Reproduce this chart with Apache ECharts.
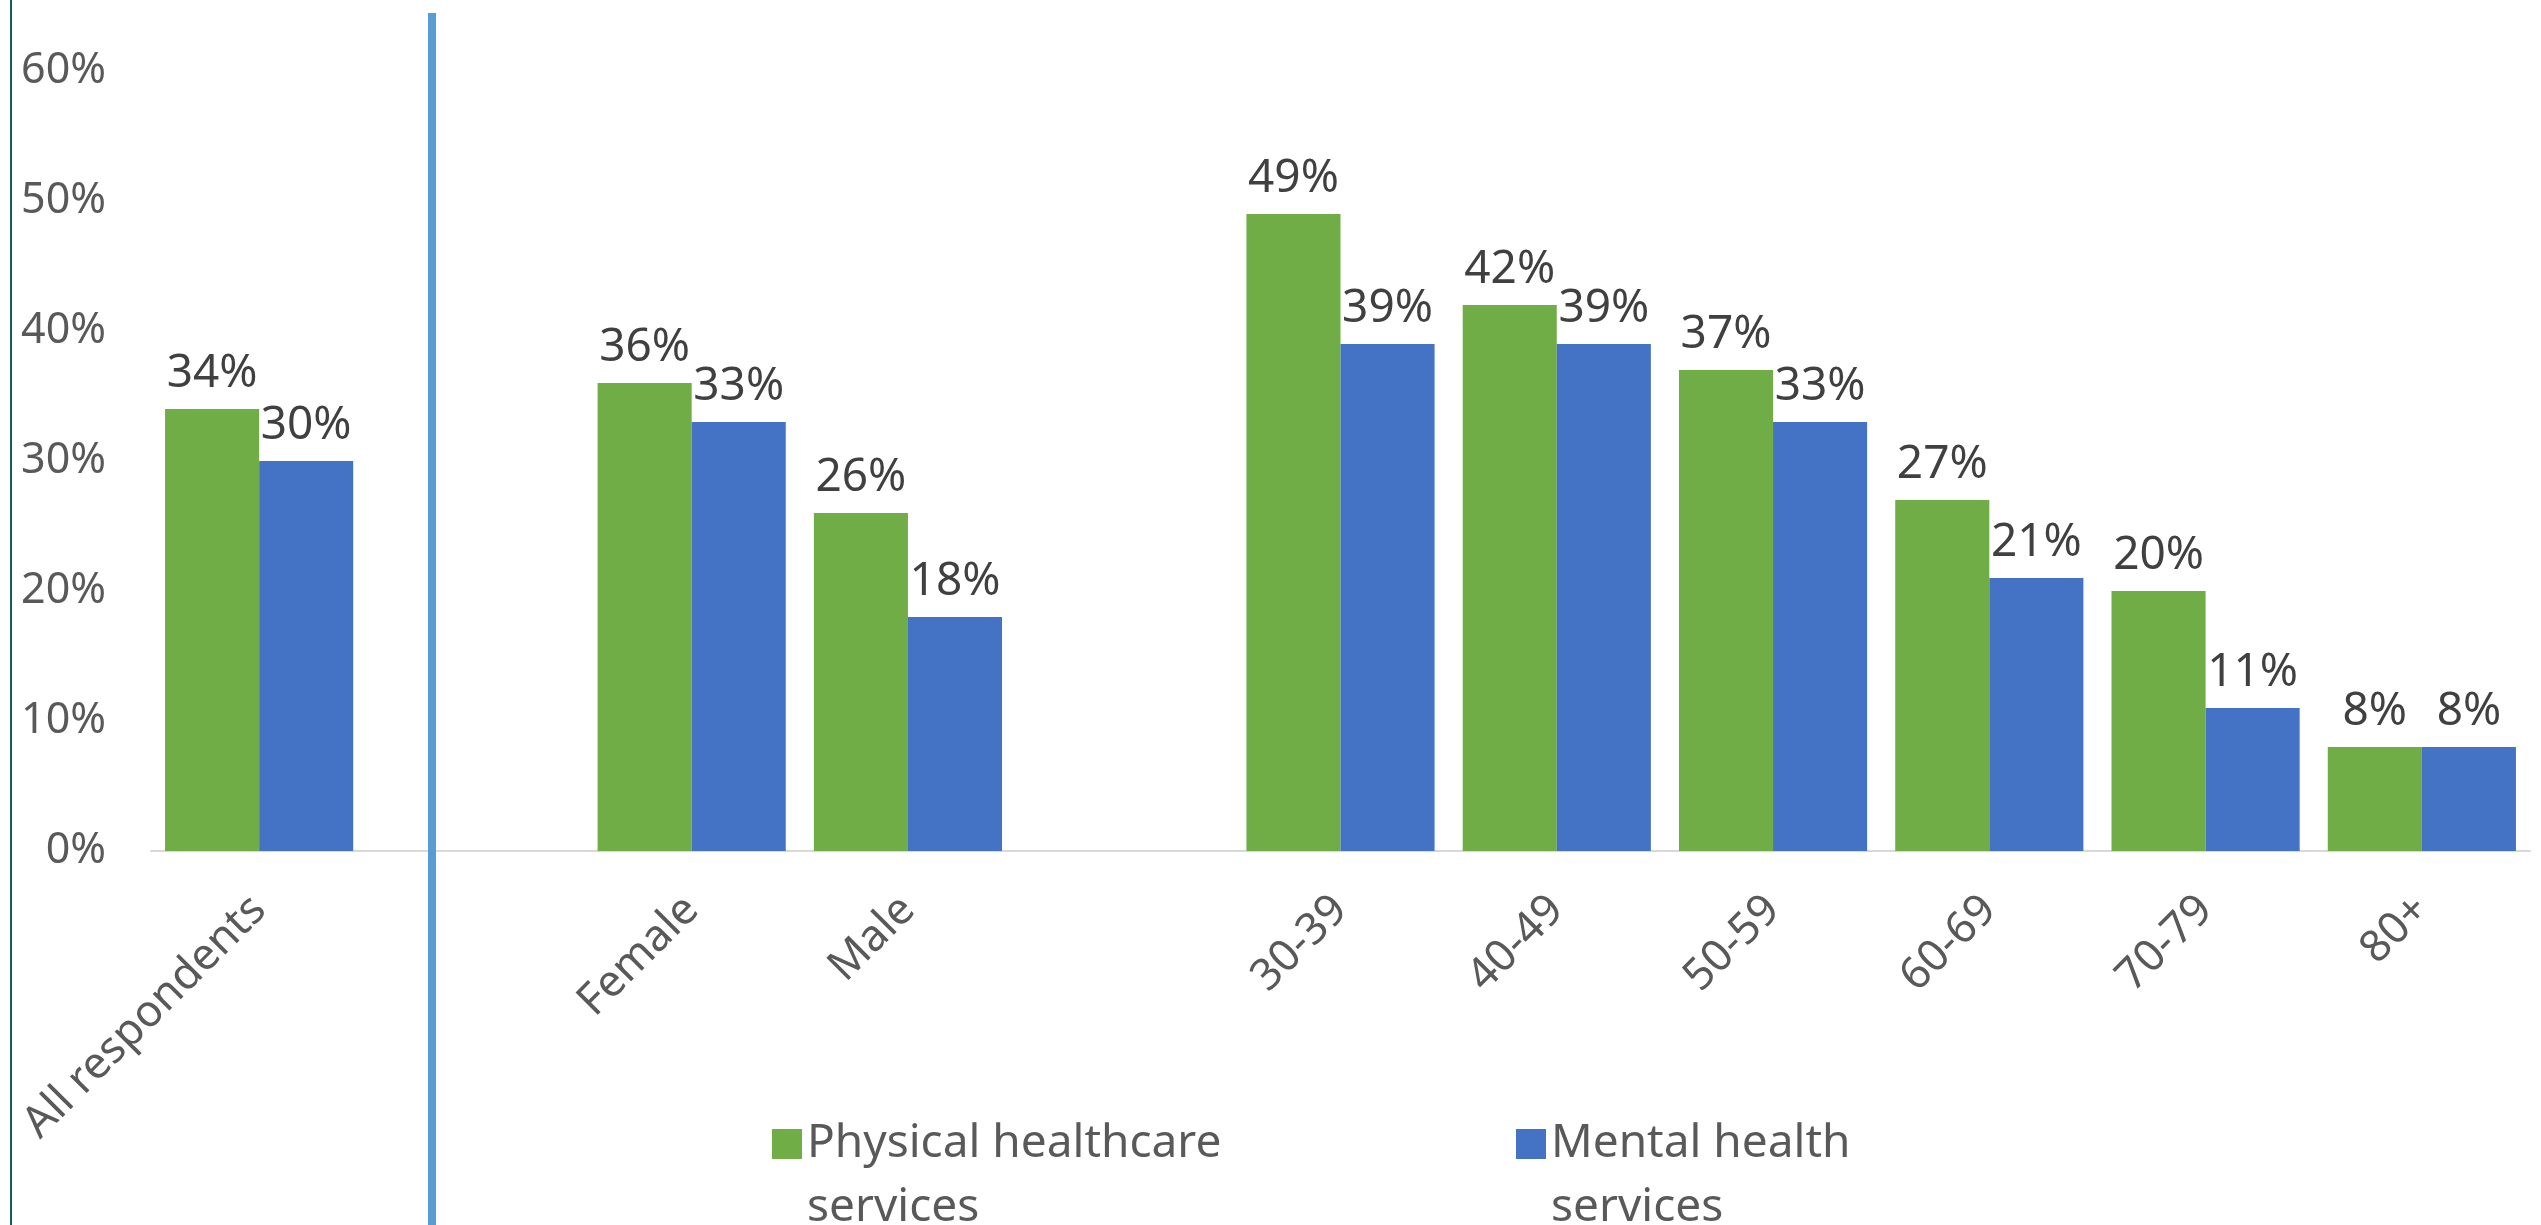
<!DOCTYPE html>
<html>
<head>
<meta charset="utf-8">
<script src="https://cdn.jsdelivr.net/npm/echarts@6/dist/echarts.min.js"></script>
<style>
  html, body { margin: 0; padding: 0; background: #fff; }
  #chart { width: 2541px; height: 1225px; }
</style>
</head>
<body>
<div id="chart"></div>
<script>
// blank categories leave the gaps between the groups
var categories = ['All respondents', '', 'Female', 'Male', '', '30-39', '40-49', '50-59', '60-69', '70-79', '80+'];
var physical = [34, null, 36, 26, null, 49, 42, 37, 27, 20, 8];
var mental = [30, null, 33, 18, null, 39, 39, 33, 21, 11, 8];
var seriesNames = ['Physical healthcare services', 'Mental health services'];
var yTicks = { min: 0, max: 60, interval: 10 };

var font = 'Noto Sans';
var chart = echarts.init(document.getElementById('chart'));

function legendFor(name, left) {
    return {
        data: [name],
        left: left,
        top: 1043,
        icon: 'rect',
        itemWidth: 30,
        itemHeight: 30,
        itemGap: 0,
        selectedMode: false,
        // empty first line keeps the marker level with the first text line
        formatter: function (n) {
            return '\n' + n.replace(' services', '\nservices');
        },
        textStyle: {
            fontFamily: font,
            fontSize: 46,
            color: '#595959',
            lineHeight: 64
        }
    };
}

var option = {
    animation: false,
    backgroundColor: '#fff',
    grid: {
        left: 151,
        right: 11,
        top: 71,
        bottom: 374,
        containLabel: false
    },
    legend: [
        legendFor(seriesNames[0], 767),
        legendFor(seriesNames[1], 1511)
    ],
    xAxis: {
        type: 'category',
        data: categories,
        axisTick: { show: false },
        axisLine: { lineStyle: { color: '#d9d9d9', width: 2 } },
        axisLabel: {
            interval: 0,
            rotate: 45,
            margin: 52,
            fontFamily: font,
            fontSize: 44,
            color: '#595959'
        }
    },
    yAxis: {
        type: 'value',
        min: yTicks.min,
        max: yTicks.max,
        interval: yTicks.interval,
        splitLine: { show: false },
        axisLine: { show: false },
        axisTick: { show: false },
        axisLabel: {
            formatter: '{value}%',
            margin: 45,
            fontFamily: font,
            fontSize: 43,
            color: '#595959'
        }
    },
    series: [
        {
            name: seriesNames[0],
            type: 'bar',
            data: physical,
            barGap: 0,
            barCategoryGap: '13%',
            itemStyle: { color: '#70AD47' },
            label: {
                show: true,
                position: 'top',
                distance: 12,
                formatter: '{c}%',
                fontFamily: font,
                fontSize: 46,
                color: '#404040'
            }
        },
        {
            name: seriesNames[1],
            type: 'bar',
            data: mental,
            barGap: 0,
            barCategoryGap: '13%',
            itemStyle: { color: '#4472C4' },
            label: {
                show: true,
                position: 'top',
                distance: 12,
                formatter: '{c}%',
                fontFamily: font,
                fontSize: 46,
                color: '#404040'
            }
        }
    ],
    graphic: [
        {
            type: 'rect',
            shape: { x: 10, y: 0, width: 2, height: 1225 },
            style: { fill: '#106060' },
            silent: true
        },
        {
            type: 'rect',
            shape: { x: 428, y: 13, width: 8, height: 1212 },
            style: { fill: '#5B9BD5' },
            silent: true,
            z: 10
        }
    ]
};

chart.setOption(option);
</script>
</body>
</html>
